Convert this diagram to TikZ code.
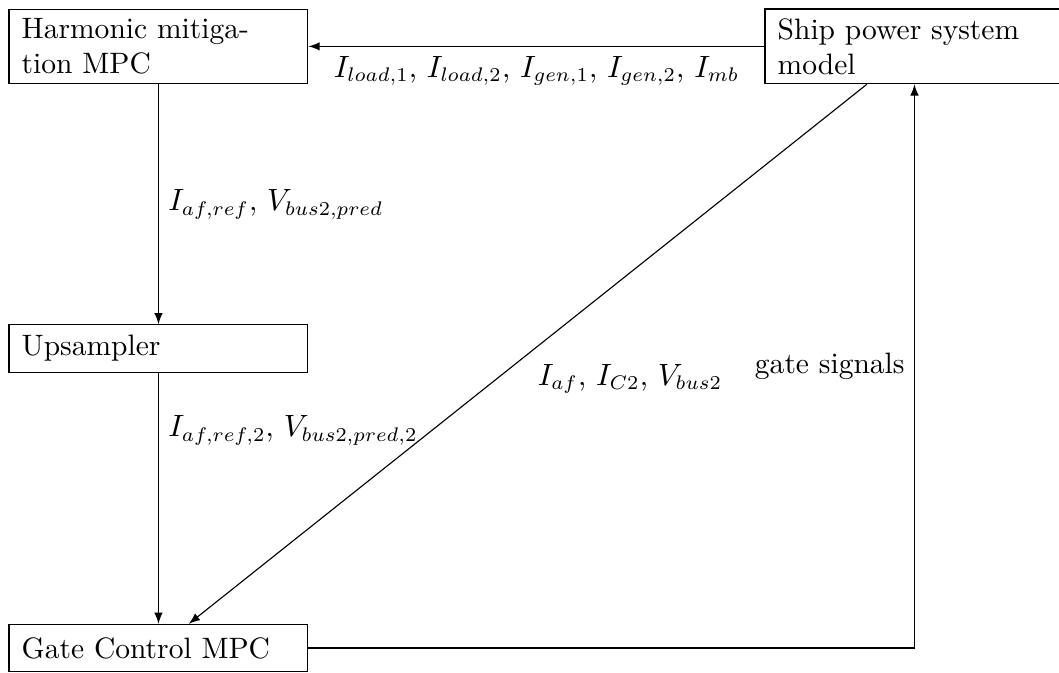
\documentclass[tikz,border=0pt]{standalone}
\usepackage{tikz}
\usetikzlibrary{calc}

\begin{document}
\begin{tikzpicture}[every node/.style={font=\fontsize{10.5}{12.4}\selectfont},
    block/.style={draw,rectangle,align=left,inner xsep=4.5pt,text width=3.42cm,minimum height=0.59cm}]
    \useasboundingbox (0,0) rectangle (13.2375,-8.4125);

    \node (hmpc) at (1.981,-0.58) [block] {Harmonic mitiga-\\tion MPC};
    \node (ups) at (1.981,-4.356) [block] {Upsampler};
    \node (gmpc) at (1.981,-8.1) [block] {Gate Control MPC};
    \node (ship) at (11.431,-0.58) [block] {Ship power system\\model};

    \draw[-latex] (ship) -- (hmpc) node[midway,below] {$I_{load,1}$, $I_{load,2}$, $I_{gen,1}$, $I_{gen,2}$, $I_{mb}$};
    \draw[-latex] (hmpc) -- (ups) node[midway,right] {$I_{af,ref}$, $V_{bus2,pred}$};
    \draw[-latex] (ups) -- (gmpc) node[pos=0.23,right] {$I_{af,ref,2}$, $V_{bus2,pred,2}$};
    \draw[-latex] (ship) -- (gmpc) node[midway,below right] {$I_{af}$, $I_{C2}$, $V_{bus2}$};
    \draw[-latex] (gmpc) -| node[pos=0.75,left] {gate signals} (ship);
\end{tikzpicture}
\end{document}
